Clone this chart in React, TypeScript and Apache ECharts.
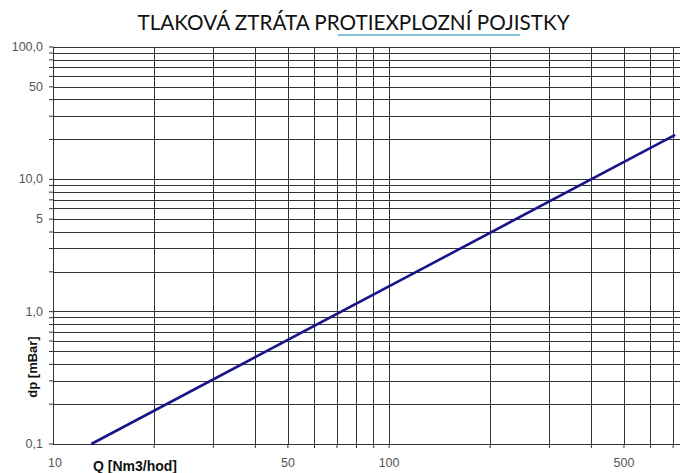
import React, { useEffect, useRef } from "react";
import * as echarts from "echarts";

const TITLE = "TLAKOVÁ ZTRÁTA PROTIEXPLOZNÍ POJISTKY";
const X_NAME = "Q [Nm3/hod]";
const Y_NAME = "dp [mBar]";

// Curve: Q [Nm3/hod] vs dp [mBar]
const flowQ = [13, 710];
const pressureDp = [0.1, 21.7];

// Axis ranges
const xMin = 10;
const xMax = 734;
const yMin = 0.1;
const yMax = 100;

// Grid lines
const xGridValues = [20, 30, 40, 50, 60, 70, 80, 90, 100, 200, 300, 400, 500, 600, 700];
const yGridValues = [
  0.1, 0.2, 0.3, 0.4, 0.5, 0.6, 0.7, 0.8, 0.9,
  1, 2, 3, 4, 5, 6, 7, 8, 9,
  10, 20, 30, 40, 50, 60, 70, 80, 90, 100,
];

// Tick labels
const xLabelValues = [10, 50, 100, 500];
const xLabelTexts = ["10", "50", "100", "500"];
const yLabelValues = [0.1, 1, 5, 10, 50, 100];
const yLabelTexts = ["0,1", "1,0", "5", "10,0", "50", "100,0"];

const GRID_COLOR = "#333333";
const LABEL_COLOR = "#555555";

export default function App() {
  const ref = useRef<HTMLDivElement>(null);

  useEffect(() => {
    document.body.style.margin = "0";
    if (!ref.current) return;
    const chart = echarts.init(ref.current, null, { renderer: "svg" });

    const option: any = {
      animation: false,
      backgroundColor: "#ffffff",
      grid: { left: 53, right: 0, top: 47, bottom: 29, containLabel: false },
      xAxis: {
        type: "log",
        logBase: 10,
        min: xMin,
        max: xMax,
        axisLine: { show: false },
        axisTick: { show: false },
        axisLabel: { show: false },
        splitLine: { show: false },
      },
      yAxis: {
        type: "log",
        logBase: 10,
        min: yMin,
        max: yMax,
        axisLine: { show: true, lineStyle: { color: GRID_COLOR, width: 1 } },
        axisTick: { show: false },
        axisLabel: { show: false },
        splitLine: { show: false },
      },
      series: [
        {
          type: "line",
          data: [],
          z: 1,
          silent: true,
          markLine: {
            silent: true,
            symbol: ["none", "none"],
            label: { show: false },
            emphasis: { disabled: true },
            lineStyle: { color: GRID_COLOR, width: 1, type: "solid" },
            data: [
              ...yGridValues.map((v) => ({ yAxis: v })),
              ...xGridValues.map((v) => ({ xAxis: v })),
            ],
          },
        },
        {
          type: "line",
          z: 5,
          symbol: "none",
          data: flowQ.map((q, i) => [q, pressureDp[i]]),
          lineStyle: { color: "#16168a", width: 2.6 },
        },
      ],
    };
    chart.setOption(option);

    const graphics: any[] = [];
    yGridValues.forEach((v) => {
      const p = chart.convertToPixel({ gridIndex: 0 }, [xMin, v]) as number[];
      graphics.push({
        type: "line",
        shape: { x1: p[0] - 4, y1: p[1], x2: p[0], y2: p[1] },
        style: { stroke: GRID_COLOR, lineWidth: 1 },
      });
    });
    xGridValues.forEach((v) => {
      const p = chart.convertToPixel({ gridIndex: 0 }, [v, yMin]) as number[];
      graphics.push({
        type: "line",
        shape: { x1: p[0], y1: p[1], x2: p[0], y2: p[1] + 4 },
        style: { stroke: GRID_COLOR, lineWidth: 1 },
      });
    });
    yLabelValues.forEach((v, i) => {
      const p = chart.convertToPixel({ gridIndex: 0 }, [xMin, v]) as number[];
      graphics.push({
        type: "text",
        x: p[0] - 10,
        y: p[1],
        style: {
          text: yLabelTexts[i],
          align: "right",
          verticalAlign: "middle",
          fill: LABEL_COLOR,
          font: "12.5px 'Liberation Sans', Arial, sans-serif",
        },
      });
    });
    xLabelValues.forEach((v, i) => {
      const p = chart.convertToPixel({ gridIndex: 0 }, [v, yMin]) as number[];
      graphics.push({
        type: "text",
        x: p[0] + (i === 0 ? 2 : 0),
        y: p[1] + 19,
        style: {
          text: xLabelTexts[i],
          align: "center",
          verticalAlign: "middle",
          fill: LABEL_COLOR,
          font: "12.5px 'Liberation Sans', Arial, sans-serif",
        },
      });
    });
    graphics.push({
      type: "text",
      x: 135,
      y: 466,
      style: {
        text: X_NAME,
        align: "center",
        verticalAlign: "middle",
        fill: "#111111",
        font: "bold 14px 'Liberation Sans', Arial, sans-serif",
      },
    });
    graphics.push({
      type: "text",
      x: 32,
      y: 367,
      rotation: Math.PI / 2,
      style: {
        text: Y_NAME,
        align: "center",
        verticalAlign: "middle",
        fill: "#111111",
        font: "bold 13px 'Liberation Sans', Arial, sans-serif",
      },
    });
    graphics.push({
      type: "text",
      x: 353.5,
      y: 22,
      style: {
        text: TITLE,
        align: "center",
        verticalAlign: "middle",
        fill: "#111111",
        font: "20.7px Lato, sans-serif",
      },
    });
    graphics.push({
      type: "line",
      shape: { x1: 338, y1: 35, x2: 520, y2: 35 },
      style: { stroke: "#5ab6d0", lineWidth: 1.5 },
    });

    chart.setOption({ graphic: graphics });

    return () => {
      chart.dispose();
    };
  }, []);

  return <div ref={ref} style={{ width: 680, height: 473 }} />;
}
